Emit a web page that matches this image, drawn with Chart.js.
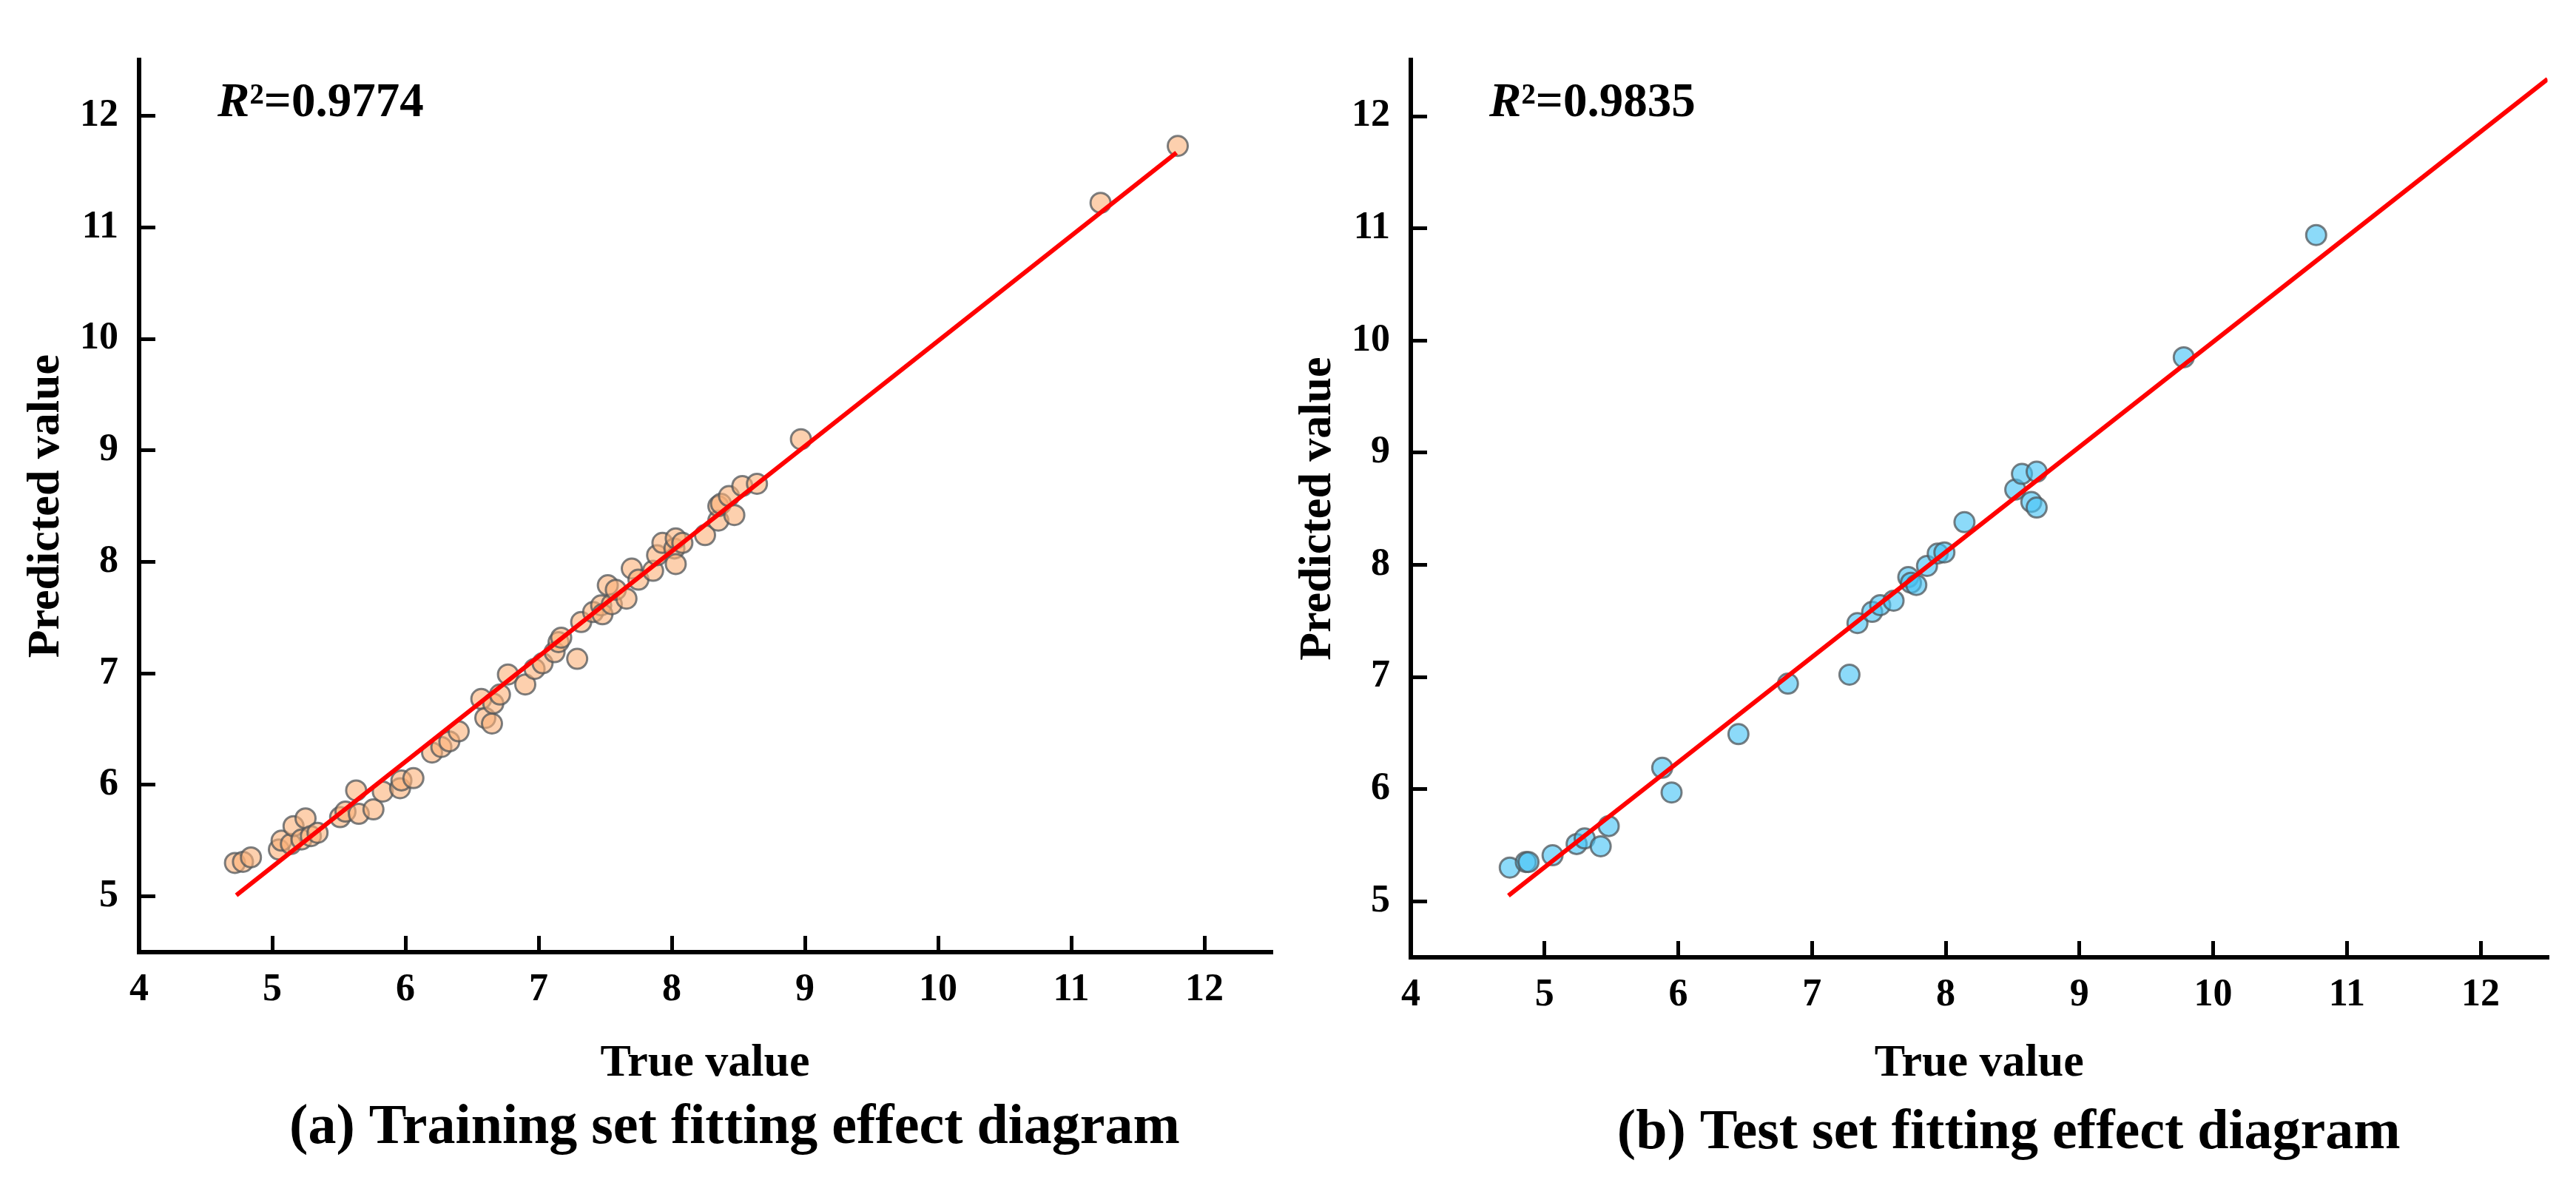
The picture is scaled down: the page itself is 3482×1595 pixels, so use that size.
<!DOCTYPE html>
<html>
<head>
<meta charset="utf-8">
<script src="https://cdn.jsdelivr.net/npm/chart.js@4.4.1/dist/chart.umd.min.js"></script>
<style>
html, body { margin: 0; padding: 0; background: #fff; overflow: hidden; }
#wrap { position: relative; width: 3482px; height: 1595px; }
canvas { position: absolute; top: 0; }
</style>
</head>
<body>
<div id="wrap">
    <canvas id="train" width="1741" height="1595" style="left:0;width:1741px;height:1595px"></canvas>
    <canvas id="test" width="1741" height="1595" style="left:1719px;width:1741px;height:1595px"></canvas>
</div>
<script>
// tick labels
const xTicks = [4, 5, 6, 7, 8, 9, 10, 11, 12]
const yTicks = [5, 6, 7, 8, 9, 10, 11, 12]

// training set
const trainTrue = [4.72, 4.78, 4.84, 5.05, 5.07, 5.14, 5.16, 5.22, 5.25, 5.29, 5.34, 5.51, 5.55, 5.63, 5.65, 5.76,
    5.83, 5.96, 5.97, 6.06, 6.20, 6.27, 6.33, 6.40, 6.57, 6.60, 6.65, 6.66, 6.71, 6.77, 6.90, 6.97, 7.03,
    7.12, 7.15, 7.17, 7.29, 7.32, 7.41, 7.47, 7.48, 7.52, 7.55, 7.58, 7.66, 7.70, 7.75, 7.86, 7.89, 7.93,
    8.02, 8.03, 8.03, 8.08, 8.25, 8.35, 8.35, 8.37, 8.43, 8.47, 8.53, 8.64, 8.97, 11.22, 11.80]
const trainPred = [5.30, 5.31, 5.35, 5.42, 5.50, 5.47, 5.63, 5.51, 5.70, 5.54, 5.57, 5.71, 5.76, 5.95, 5.74, 5.78,
    5.94, 5.97, 6.04, 6.06, 6.29, 6.34, 6.39, 6.48, 6.77, 6.60, 6.55, 6.73, 6.81, 6.99, 6.90, 7.04, 7.09,
    7.19, 7.28, 7.32, 7.13, 7.46, 7.55, 7.61, 7.53, 7.79, 7.62, 7.75, 7.67, 7.94, 7.84, 7.92, 8.06, 8.17,
    8.12, 7.98, 8.21, 8.17, 8.24, 8.37, 8.50, 8.52, 8.59, 8.42, 8.68, 8.70, 9.10, 11.22, 11.73]
const trainFitX = [4.73, 11.79]
const trainFitY = [5.01, 11.67]

// test set
const testTrue = [4.74, 4.86, 4.88, 5.06, 5.24, 5.30, 5.42, 5.48, 5.88, 5.95, 6.45, 6.82, 7.28, 7.34, 7.45, 7.51,
    7.61, 7.72, 7.74, 7.78, 7.86, 7.94, 7.99, 8.14, 8.52, 8.57, 8.68, 8.64, 8.68, 9.78, 10.77]
const testPred = [5.30, 5.35, 5.35, 5.41, 5.51, 5.56, 5.49, 5.67, 6.19, 5.97, 6.49, 6.94, 7.02, 7.48, 7.58, 7.64,
    7.68, 7.89, 7.84, 7.82, 7.99, 8.10, 8.11, 8.38, 8.67, 8.81, 8.83, 8.56, 8.51, 9.85, 10.94]
const testFitX = [4.73, 12.5]
const testFitY = [5.05, 12.33]

const FONT = 'Liberation Serif'
Chart.defaults.font.family = FONT
Chart.defaults.font.weight = 'bold'
Chart.defaults.color = '#000'

const pairs = (xs, ys) => xs.map((x, i) => ({ x: x, y: ys[i] }))

// R² label and caption under the plot
const annotate = {
    id: 'annotate',
    afterDraw(chart, args, opts) {
        const { ctx, chartArea: a } = chart
        ctx.save()
        ctx.fillStyle = '#000'
        ctx.textBaseline = 'alphabetic'
        let x = a.left + 106
        const y = a.top + 76
        ctx.font = 'italic bold 65px "' + FONT + '"'
        ctx.fillText('R', x, y)
        x += ctx.measureText('R').width
        ctx.font = 'bold 65px "' + FONT + '"'
        ctx.fillText('²=' + opts.r2, x, y)
        ctx.font = 'bold 76px "' + FONT + '"'
        ctx.textAlign = 'center'
        ctx.fillText(opts.caption, (a.left + a.right) / 2 + 40, a.bottom + 258)
        ctx.restore()
    }
}

function makeChart(id, xs, ys, fx, fy, fill, r2, caption, box) {
    return new Chart(document.getElementById(id), {
        type: 'scatter',
        data: {
            datasets: [
                {
                    type: 'line',
                    data: pairs(fx, fy),
                    borderColor: '#ff0000',
                    borderWidth: 6,
                    pointRadius: 0,
                    fill: false,
                    order: 0,
                },
                {
                    data: pairs(xs, ys),
                    backgroundColor: fill,
                    borderColor: 'rgba(80, 85, 90, 0.75)',
                    borderWidth: 3,
                    pointRadius: 13.5,
                    order: 1,
                },
            ]
        },
        options: {
            responsive: false,
            animation: false,
            layout: {
                padding: { left: 0, top: box.top, right: box.right, bottom: 0 }
            },
            scales: {
                x: {
                    type: 'linear',
                    position: 'bottom',
                    min: 4,
                    max: 12.5,
                    afterBuildTicks: s => { s.ticks = xTicks.map(v => ({ value: v })) },
                    afterFit: s => { s.height = box.xHeight },
                    border: { display: true, color: '#000', width: 6 },
                    grid: { drawOnChartArea: false, color: '#000', lineWidth: 5, tickLength: -22 },
                    ticks: { font: { size: 52, weight: 'bold' }, padding: 42, maxRotation: 0 },
                    title: {
                        display: true,
                        text: 'True value',
                        font: { size: 62, weight: 'bold' },
                        padding: { top: 0, bottom: 120 },
                    }
                },
                y: {
                    min: 4.5,
                    max: 12.5,
                    afterBuildTicks: s => { s.ticks = yTicks.map(v => ({ value: v })) },
                    afterFit: s => { s.width = box.yWidth },
                    border: { display: true, color: '#000', width: 6 },
                    grid: { drawOnChartArea: false, color: '#000', lineWidth: 5, tickLength: -22 },
                    ticks: { font: { size: 52, weight: 'bold' }, padding: 50 },
                    title: {
                        display: true,
                        text: 'Predicted value',
                        font: { size: 62, weight: 'bold' },
                        padding: { top: 26, bottom: 0 },
                    }
                }
            },
            plugins: {
                legend: { display: false },
                tooltip: { enabled: false },
                annotate: { r2: r2, caption: caption },
            }
        },
        plugins: [annotate]
    })
}

makeChart('train', trainTrue, trainPred, trainFitX, trainFitY, 'rgba(251, 176, 120, 0.6)',
    '0.9774', '(a) Training set fitting effect diagram',
    { top: 47, right: 23, yWidth: 188, xHeight: 308 })

makeChart('test', testTrue, testPred, testFitX, testFitY, 'rgba(70, 195, 245, 0.62)',
    '0.9835', '(b) Test set fitting effect diagram',
    { top: 53, right: 15, yWidth: 188, xHeight: 301 })
</script>
</body>
</html>
